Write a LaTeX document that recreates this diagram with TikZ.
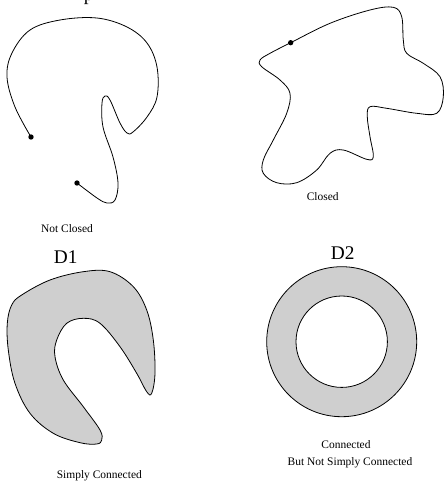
\documentclass[tikz,border=0pt]{standalone}
\usepackage{fontspec}
\setmainfont{Liberation Serif}
\begin{document}
\begin{tikzpicture}[x=0.75pt,y=-0.75pt,
  curve/.style={black,line width=0.6pt},
  region/.style={draw=black,line width=0.6pt,fill=black!19},
  dotmark/.style={circle,fill=black,inner sep=0pt,minimum size=4pt},
  smalllabel/.style={font=\fontsize{8.6}{10}\selectfont,align=center},
  biglabel/.style={font=\fontsize{14.5}{16}\selectfont}]
\useasboundingbox (0,0) rectangle (447,482);
% cut-off glyph at top
\node[biglabel,anchor=base west,inner sep=0pt] (cut) at (83.5,0) {p};
% Not closed curve
\draw[curve] plot[smooth,tension=0.6] coordinates {(31,137) (15,107) (7,77) (12,53) (30,30) (60,20) (97,18) (127,27) (147,43) (157,67) (157,97) (147,117) (133,132) (127,133) (120,123) (110,100) (105,96) (102,103) (103,127) (113,157) (118,183) (115,200) (107,203) (97,198) (77,183)};
\node[dotmark] (a1) at (31,137) {};
\node[dotmark] (a2) at (77,183) {};
\node[smalllabel] (nc) at (67,229) {Not Closed};
% Closed curve
\draw[curve] plot[smooth cycle,tension=0.6] coordinates {(290.7,42.7) (330,23.3) (370,10) (393.3,7.3) (401.7,16.7) (403.3,40) (406.7,53.3) (423.3,63.3) (440,76.7) (443.3,96.7) (436.7,113.3) (416.7,113.3) (386.7,108.3) (370,106.7) (367.3,116.7) (370,136.7) (373.3,156.7) (366.7,159.3) (343.3,150) (330,153.3) (316.7,170) (296.7,182.7) (276.7,182.7) (263.3,173.3) (263.3,160) (273.3,140) (286.7,113.3) (290,93.3) (280,80) (261.7,66.7) (260,60) (270,53.3)};
\node[dotmark] (b1) at (290.7,42.7) {};
\node[smalllabel] (cl) at (322.7,196.7) {Closed};
% D1
\node[biglabel] (d1) at (65.7,256.7) {D1};
\draw[region] plot[smooth cycle,tension=0.6] coordinates {(21.7,295) (50,280) (83.3,271.7) (110,271.7) (133.3,286.7) (146.7,310) (153.3,340) (155,373.3) (151.7,393.3) (146.7,391.7) (136.7,373.3) (120,346.7) (100,323.3) (83.3,318.3) (66.7,323.3) (56.7,340) (55,356.7) (63.3,380) (83.3,406.7) (100,430) (101.7,440) (96.7,444) (80,442.7) (53.3,433.3) (30,413.3) (15,383.3) (8.3,350) (7.3,323.3) (11.7,305)};
\node[smalllabel] (sc) at (99.3,476) {Simply Connected};
% D2
\node[biglabel] (d2) at (342.7,253.3) {D2};
\coordinate (c2) at (341.7,341.7);
\draw[region,even odd rule] (c2) circle[radius=75] (c2) circle[radius=45.7];
\node[smalllabel] (cn) at (346,445) {Connected};
\node[smalllabel] (bn) at (350,462.7) {But Not Simply Connected};
\end{tikzpicture}
\end{document}
